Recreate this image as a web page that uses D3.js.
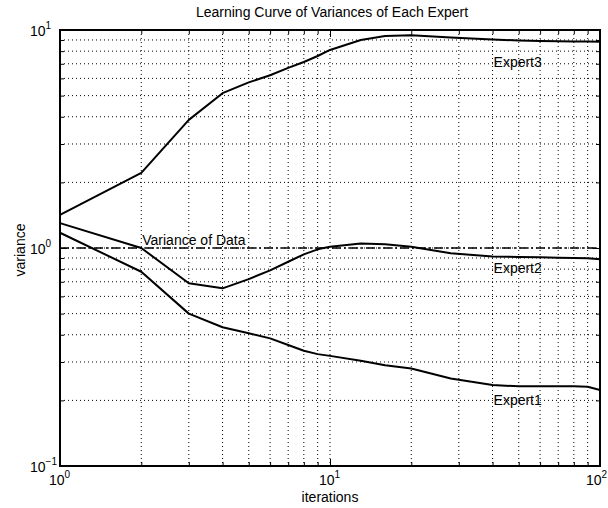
<!DOCTYPE html>
<html>
<head>
<meta charset="utf-8">
<script src="https://cdn.jsdelivr.net/npm/d3@7"></script>
<style>
  html, body { margin: 0; padding: 0; background: #fff; }
  text { font-family: "Liberation Sans", Arial, Helvetica, sans-serif; fill: #000; }
</style>
</head>
<body>
<svg id="chart" width="608" height="508"></svg>
<script>
// ---- data ----
const iterations = [1, 2, 3, 4, 5, 6, 7, 8, 9, 10, 13, 16, 20, 28, 40, 50, 60, 70, 80, 90, 100];
const expert1 = [1.175, 0.778, 0.50, 0.433, 0.406, 0.385, 0.359, 0.338, 0.326, 0.320, 0.304, 0.290, 0.280, 0.252, 0.235, 0.232, 0.232, 0.232, 0.232, 0.231, 0.223];
const expert2 = [1.30, 1.00, 0.689, 0.653, 0.72, 0.79, 0.865, 0.935, 0.986, 1.014, 1.05, 1.04, 1.014, 0.945, 0.915, 0.91, 0.906, 0.903, 0.90, 0.898, 0.887];
const expert3 = [1.42, 2.21, 3.87, 5.13, 5.75, 6.2, 6.7, 7.13, 7.6, 8.1, 9.0, 9.38, 9.45, 9.25, 9.05, 8.95, 8.9, 8.88, 8.86, 8.85, 8.84];
const dataVariance = 1.0;
const seriesNames = ["Expert1", "Expert2", "Expert3"];
const xTickExponents = [0, 1, 2];
const yTickExponents = [-1, 0, 1];
const titleText = "Learning Curve of Variances of Each Expert";
const xLabel = "iterations";
const yLabel = "variance";
const refLabel = "Variance of Data";

// ---- layout ----
const svg = d3.select("#chart");
const L = 60, R = 600, T = 30, B = 466;

const x = d3.scaleLog().domain([1, 100]).range([L, R]);
const y = d3.scaleLog().domain([0.1, 10]).range([B, T]);

// minor grid positions
const xGrid = [];
for (let d = 1; d < 100; d *= 10) for (let k = 1; k < 10; k++) xGrid.push(k * d);
xGrid.push(100);
const yGrid = [];
for (let d = 0.1; d < 10 - 1e-9; d *= 10) for (let k = 1; k < 10; k++) yGrid.push(+(k * d).toPrecision(3));
yGrid.push(10);

const g = svg.append("g");

// dotted grid
g.append("g").selectAll("line").data(xGrid.filter(v => v > 1 && v < 100)).join("line")
  .attr("x1", d => x(d)).attr("x2", d => x(d)).attr("y1", T).attr("y2", B)
  .attr("stroke", "#000").attr("stroke-width", 1).attr("stroke-dasharray", "1,3");
g.append("g").selectAll("line").data(yGrid.filter(v => v > 0.1 && v < 10)).join("line")
  .attr("y1", d => y(d)).attr("y2", d => y(d)).attr("x1", L).attr("x2", R)
  .attr("stroke", "#000").attr("stroke-width", 1).attr("stroke-dasharray", "1,3");

const isMajor = v => Math.abs(Math.log10(v) - Math.round(Math.log10(v))) < 1e-6;

// axes with inward ticks
const bx = g.append("g").attr("transform", `translate(0,${B})`)
  .call(d3.axisBottom(x).tickValues(xGrid).tickFormat("").tickSizeOuter(0).tickSize(0));
bx.select(".domain").remove();
bx.selectAll(".tick").append("line").attr("y1", 0).attr("y2", d => isMajor(d) ? -7 : -4).attr("stroke", "#000");
const tx = g.append("g").attr("transform", `translate(0,${T})`)
  .call(d3.axisTop(x).tickValues(xGrid).tickFormat("").tickSizeOuter(0).tickSize(0));
tx.select(".domain").remove();
tx.selectAll(".tick").append("line").attr("y1", 0).attr("y2", d => isMajor(d) ? 7 : 4).attr("stroke", "#000");
const ly = g.append("g").attr("transform", `translate(${L},0)`)
  .call(d3.axisLeft(y).tickValues(yGrid).tickFormat("").tickSizeOuter(0).tickSize(0));
ly.select(".domain").remove();
ly.selectAll(".tick").append("line").attr("x1", 0).attr("x2", d => isMajor(d) ? 7 : 4).attr("stroke", "#000");
const ry = g.append("g").attr("transform", `translate(${R},0)`)
  .call(d3.axisRight(y).tickValues(yGrid).tickFormat("").tickSizeOuter(0).tickSize(0));
ry.select(".domain").remove();
ry.selectAll(".tick").append("line").attr("x1", 0).attr("x2", d => isMajor(d) ? -7 : -4).attr("stroke", "#000");

// reference line (dash-dot)
g.append("line")
  .attr("x1", x(1)).attr("x2", x(100)).attr("y1", y(dataVariance)).attr("y2", y(dataVariance))
  .attr("stroke", "#000").attr("stroke-width", 1.6).attr("stroke-dasharray", "9,3,2,3");

// curves
const line = d3.line().x(d => x(d[0])).y(d => y(d[1]));
[expert1, expert2, expert3].forEach(vals => {
  g.append("path").datum(iterations.map((it, i) => [it, vals[i]]))
    .attr("d", line).attr("fill", "none").attr("stroke", "#000").attr("stroke-width", 2)
    .attr("stroke-linejoin", "round");
});

// frame
g.append("rect").attr("x", L).attr("y", T).attr("width", R - L).attr("height", B - T)
  .attr("fill", "none").attr("stroke", "#000").attr("stroke-width", 2);

// labels on curves
const fs = 14;
const lab = (txt, xx, yy) => svg.append("text").attr("x", xx).attr("y", yy).attr("font-size", fs).text(txt);
lab(seriesNames[2], x(40) + 1, 67);
lab(seriesNames[1], x(40) + 1, 273);
lab(seriesNames[0], x(40) + 1, 405);
lab(refLabel, x(2) + 1, 245);

// title
svg.append("text").attr("x", (L + R) / 2 + 2).attr("y", 17).attr("text-anchor", "middle")
  .attr("font-size", fs).text(titleText);

// x tick labels
xTickExponents.forEach(e => {
  const px = Math.min(x(Math.pow(10, e)) - 11, 586);
  const t = svg.append("text").attr("x", px).attr("y", 485).attr("font-size", fs);
  t.append("tspan").text("10");
  t.append("tspan").attr("dy", -7).attr("font-size", 10).text(e);
});
// y tick labels
yTickExponents.forEach(e => {
  const t = svg.append("text").attr("x", 30).attr("y", y(Math.pow(10, e)) + 6).attr("font-size", fs);
  t.append("tspan").text("10");
  t.append("tspan").attr("dy", -7).attr("font-size", 10).text(e === -1 ? "\u22121" : e);
});

// axis labels
svg.append("text").attr("x", (L + R) / 2).attr("y", 502).attr("text-anchor", "middle")
  .attr("font-size", fs).text(xLabel);
svg.append("text").attr("transform", `translate(25,${(T + B) / 2 + 2}) rotate(-90)`)
  .attr("text-anchor", "middle").attr("font-size", fs).text(yLabel);
</script>
</body>
</html>
